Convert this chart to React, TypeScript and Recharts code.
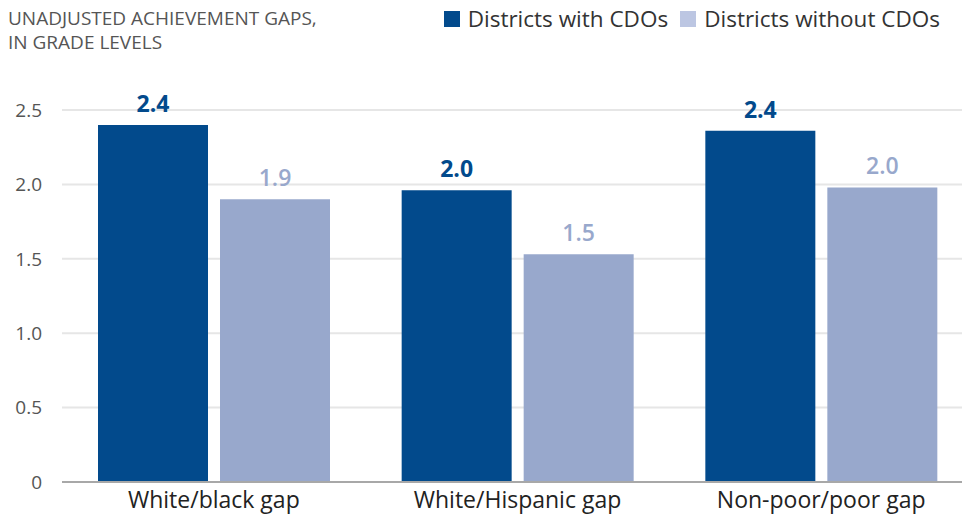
import { BarChart, Bar, XAxis, YAxis, CartesianGrid, LabelList } from "recharts";

const categories = ["White/black gap", "White/Hispanic gap", "Non-poor/poor gap"];
const withCdo = [2.4, 1.96, 2.36];
const withoutCdo = [1.9, 1.53, 1.98];
const yTicks = [0, 0.5, 1, 1.5, 2, 2.5];
const legendLabels = ["Districts with CDOs", "Districts without CDOs"];
const titleLines = ["UNADJUSTED ACHIEVEMENT GAPS,", "IN GRADE LEVELS"];

const DARK = "#024a8c";
const LIGHT = "#98a8cc";
const LIGHT_KEY = "#bcc6e2";
const FONT = "'Open Sans', sans-serif";

const data = categories.map((name, i) => ({
  name,
  withCdo: withCdo[i],
  withoutCdo: withoutCdo[i],
}));

function LegendBox() {
  const colors = [DARK, LIGHT_KEY];
  return (
    <div
      style={{
        position: "absolute",
        right: 22,
        top: 4,
        display: "flex",
        gap: 12,
        fontFamily: FONT,
        fontSize: 22.5,
        lineHeight: "30px",
        color: "#333",
      }}
    >
      {legendLabels.map((label, i) => (
        <div key={label} style={{ display: "flex", alignItems: "center" }}>
          <span style={{ display: "inline-block", width: 16, height: 16, background: colors[i], marginRight: 8 }} />
          {label}
        </div>
      ))}
    </div>
  );
}

export default function App() {
  return (
    <div style={{ position: "absolute", left: 0, top: 0, width: 962, height: 521, background: "#fff", overflow: "hidden" }}>
      {titleLines.map((line, i) => (
        <div
          key={line}
          style={{
            position: "absolute",
            left: 8,
            top: 8 + i * 24,
            fontFamily: FONT,
            fontSize: 19,
            lineHeight: "20px",
            color: "#555",
            whiteSpace: "nowrap",
          }}
        >
          {line}
        </div>
      ))}
      <LegendBox />
      <div style={{ position: "absolute", left: 0, top: 0 }}>
        <BarChart
          width={962}
          height={521}
          data={data}
          margin={{ top: 110, right: -11, bottom: 0, left: 0 }}
          barGap={12}
          barCategoryGap={36}
          style={{ overflow: "visible" }}
        >
          <CartesianGrid vertical={false} stroke="#e6e6e6" strokeWidth={2} />
          <XAxis
            dataKey="name"
            height={39}
            tickLine={false}
            axisLine={{ stroke: "#a8a8a8", strokeWidth: 2 }}
            tick={{ fontFamily: FONT, fontSize: 23, fill: "#222" }}
            tickMargin={4}
          />
          <YAxis
            width={62}
            domain={[0, 2.5]}
            ticks={yTicks}
            tickFormatter={(v: number) => (v === 0 ? "0" : v.toFixed(1))}
            axisLine={false}
            tickLine={false}
            tickSize={0}
            tickMargin={20}
            tick={{ fontFamily: FONT, fontSize: 19, fill: "#555" }}
          />
          <Bar dataKey="withCdo" fill={DARK} isAnimationActive={false}>
            <LabelList
              dataKey="withCdo"
              position="top"
              offset={13}
              formatter={(v: number) => v.toFixed(1)}
              style={{ fontFamily: FONT, fontSize: 23, fontWeight: 700, fill: DARK }}
            />
          </Bar>
          <Bar dataKey="withoutCdo" fill={LIGHT} isAnimationActive={false}>
            <LabelList
              dataKey="withoutCdo"
              position="top"
              offset={13}
              formatter={(v: number) => v.toFixed(1)}
              style={{ fontFamily: FONT, fontSize: 23, fontWeight: 600, fill: LIGHT }}
            />
          </Bar>
        </BarChart>
      </div>
    </div>
  );
}
